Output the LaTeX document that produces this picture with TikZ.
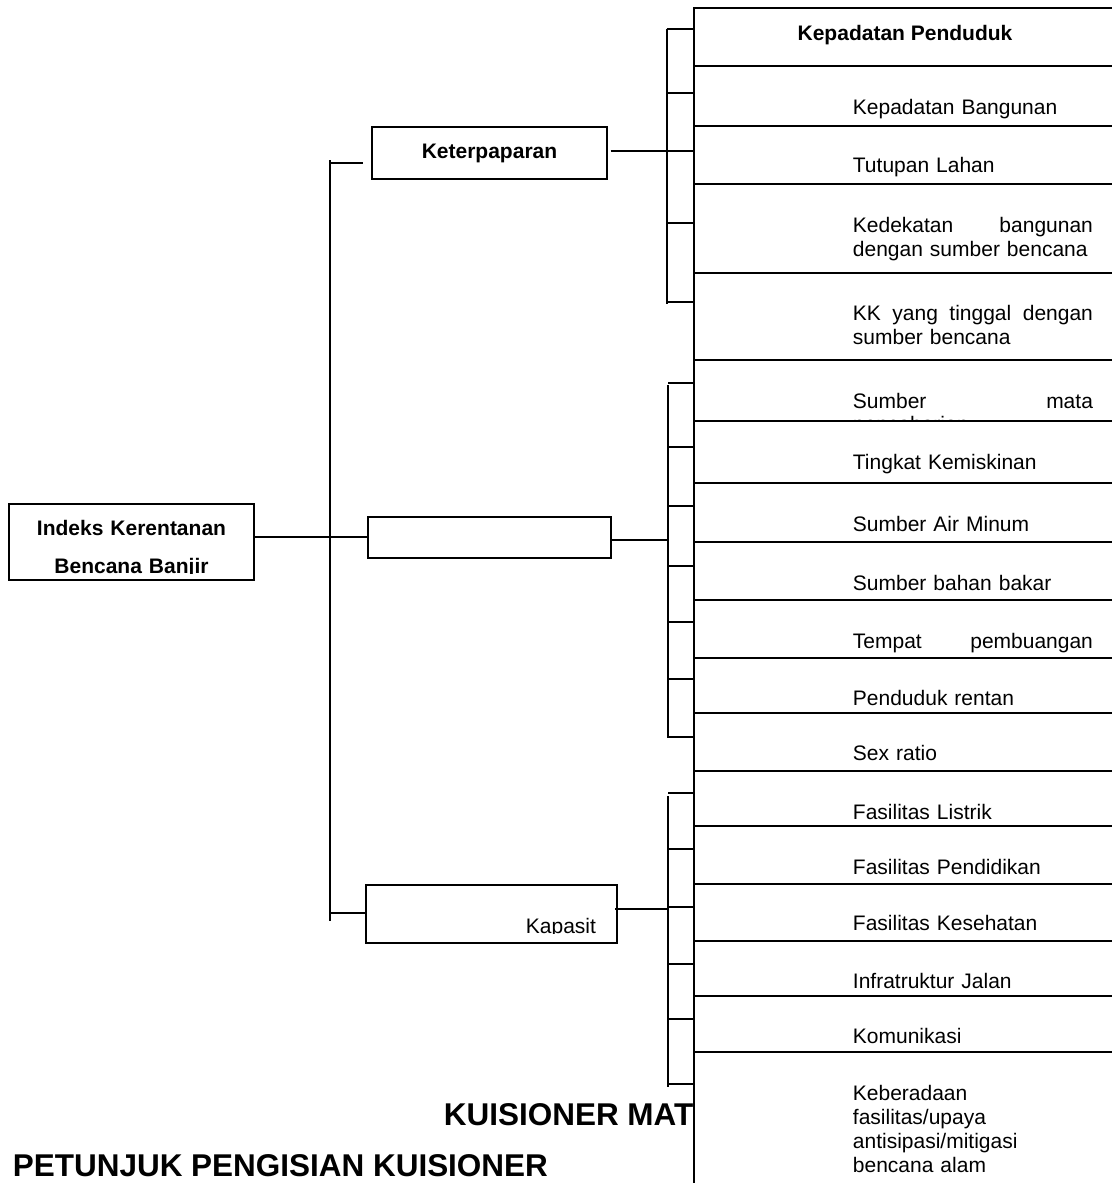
\documentclass[tikz,border=0pt]{standalone}
\usepackage{fontspec}
\setmainfont{Liberation Sans}
\usetikzlibrary{calc}
\newcommand{\cellfont}{\fontsize{15.75pt}{18pt}\selectfont}
\newcommand{\headfont}{\fontsize{23.6pt}{27pt}\selectfont\bfseries}

\begin{document}
\begin{tikzpicture}[x=0.75pt,y=-0.75pt,line width=1.4pt,
	box/.style={draw,rectangle,inner sep=0pt},
	cell/.style={anchor=base west,inner sep=0pt,font=\cellfont,text width=180pt,align=left}]
	\useasboundingbox (0,0) rectangle (1112,1183);
	\clip (0,0) rectangle (1112,1183);
	%boxes of the tree placed by hand
	\node[box,minimum width=183.75pt,minimum height=57pt] (root) at (131.5,542){};
	\node[box,minimum width=176.5pt,minimum height=38.8pt] (keter) at (489.35,153.15){};
	\node[box,minimum width=182.25pt,minimum height=30.75pt] (rentan) at (489.5,537.2){};
	\node[box,minimum width=188.25pt,minimum height=43.3pt] (kapasit) at (491.5,913.85){};
	\node[font=\cellfont\bfseries,anchor=base,inner sep=0pt] (ketertext) at (489.5,158.3){Keterpaparan};
	%% texts cut off by the bottom of their box
	\begin{scope}
		\clip (root.north west) rectangle ($(root.south east)+(0,-7)$);
		\node[anchor=base,inner sep=0pt,text width=183pt,align=center,
			font=\bfseries\fontsize{15.75pt}{28.3pt}\selectfont] (roottext) at (131.5,535.3){Indeks Kerentanan\\Bencana Banjir};
	\end{scope}
	\begin{scope}
		\clip (kapasit.north west) rectangle ($(kapasit.south east)+(0,-10)$);
		\node[anchor=base west,inner sep=0pt,font=\cellfont] (kaptext) at (525,933){Kapasit};
	\end{scope}
	%% trunk and its stubs
	\coordinate (trunktop) at (330,160);\coordinate (trunkbot) at (330,921);
	\coordinate (t1) at (330,163.3);\coordinate (t3) at (330,912.7);
	\draw (trunktop)--(trunkbot);
	\draw (root.east |- rentan.west)--(rentan.west);
	\draw (t1)--([xshift=-6pt]keter.west |- t1);
	\draw (t3)--(kapasit.west |- t3);
	%% lines from the boxes to the brackets
	\coordinate (g1) at (666.7,151);\coordinate (g2) at (666.7,540);\coordinate (g3) at (668,909);
	\draw ([xshift=2pt]keter.east |- g1)--(g1);
	\draw (rentan.east |- g2)--(g2);
	\draw ([xshift=-2pt]kapasit.east |- g3)--(g3);
	%% brackets drawn with a loop
	\draw (666.7,29)--(666.7,304);
	\foreach \y in {29,93,151,223,302}{
		\draw (666.7,\y)--(694,\y);
		}
	\draw (668,385)--(668,738);
	\foreach \y in {383,447,506,566,622,679,737}{
		\draw (668,\y)--(694,\y);
		}
	\draw (668,796)--(668,1087);
	\foreach \y in {793.3,849,906.7,963.7,1019.3,1084.3}{
		\draw (668,\y)--(694,\y);
		}
	%% headings at the foot
	\node[anchor=base west,inner sep=0pt,font=\headfont] (kuis) at (443,1125){KUISIONER MAT};
	\node[anchor=base west,inner sep=0pt,font=\headfont] (petunjuk) at (12,1176){PETUNJUK PENGISIAN KUISIONER};
	%% column of indicators
	\coordinate (coltop) at (694,8);
	\draw (1120,8)--(coltop)--(694,1190);
	\foreach \y in {66,125.7,184,272.7,360,421,483,542.3,599.7,658,712.7,770.7,826,883.7,940.7,996,1051.7}{
		\draw (694,\y)--(1120,\y);
		}
	\node[font=\cellfont\bfseries,anchor=base,inner sep=0pt] (c0) at (905,40.7){Kepadatan Penduduk};
	\foreach \y/\t [count=\i] in {114.3/Kepadatan Bangunan,172.7/Tutupan Lahan,
		232.7/{Kedekatan\hfill bangunan\\dengan sumber bencana},
		320/{KK\hfill yang\hfill tinggal\hfill dengan\\sumber bencana},
		469/Tingkat Kemiskinan,531/Sumber Air Minum,590.7/Sumber bahan bakar,
		648.3/{Tempat\hfill pembuangan},705/Penduduk rentan,760.7/Sex ratio,
		819.3/Fasilitas Listrik,874.3/Fasilitas Pendidikan,930.7/Fasilitas Kesehatan,
		988/Infratruktur Jalan,1043/Komunikasi,
		1100/{Keberadaan\\fasilitas/upaya\\antisipasi/mitigasi\\bencana alam}}{
		\node[cell] (c\i) at (852,\y){\t};
		}
	\begin{scope}
		\clip (694,360) rectangle (1112,420);
		\node[cell] (sumber) at (852,408.3){Sumber\hfill mata\\[-0.5pt]pencaharian};
	\end{scope}
\end{tikzpicture}
\end{document}
